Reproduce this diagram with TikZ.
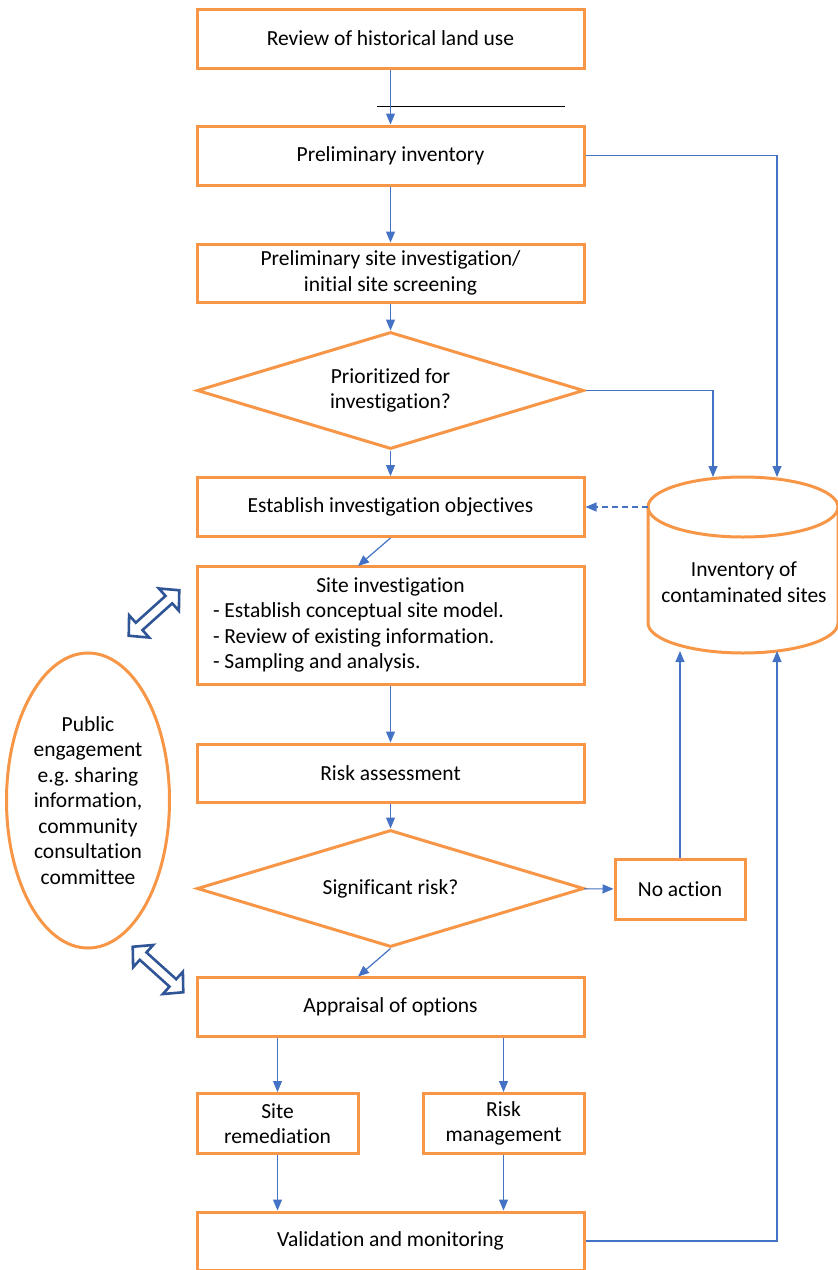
\documentclass[tikz,border=0pt]{standalone}
\usepackage{fontspec}
\setmainfont{Carlito}[Ligatures={NoCommon}]
\usetikzlibrary{shapes.geometric,arrows.meta}
\frenchspacing

\definecolor{orng}{RGB}{247,150,70}
\definecolor{lblue}{RGB}{68,114,196}
\definecolor{dblue}{RGB}{47,85,151}

\tikzset{
  stepbox/.style={draw=orng, line width=3pt, fill=white, minimum width=387pt, minimum height=59pt, inner sep=0pt, align=center},
  decision/.style={diamond, draw=orng, line width=3pt, aspect=3.3, minimum width=387pt, minimum height=117pt, inner sep=0pt, align=center},
  flow/.style={draw=lblue, line width=1.2pt, -{Triangle[width=9pt,length=11pt]}},
  twoway/.style={draw=dblue, line width=2.6pt, line join=miter, fill=white}
}

\begin{document}
\begin{tikzpicture}[x=1pt, y=-1pt, every node/.style={font=\fontsize{21.5}{25.5}\selectfont}]
        \useasboundingbox (0,0) rectangle (838,1270);

        \node[stepbox] (review) at (390.5,38.5) {Review of historical land use};
        \node[stepbox] (prelim) at (390.5,155.5) {Preliminary inventory};
        \node[stepbox, minimum height=58pt] (screening) at (390.5,273) {Preliminary site investigation/\\initial site screening};
        \node[decision] (prioritized) at (390.5,390.5) {Prioritized for\\investigation?};
        \node[stepbox] (objectives) at (390.5,507) {Establish investigation objectives};
        \node[stepbox, minimum height=118pt, text width=355pt, align=flush left] (siteinv) at (390.5,625) {\hfill Site investigation\hfill\null\\- Establish conceptual site model.\\- Review of existing information.\\- Sampling and analysis.};
        \node[stepbox, minimum height=58pt] (riskass) at (390.5,773) {Risk assessment};
        \node[decision] (significant) at (390.5,888.5) {Significant risk?};
        \node[stepbox, minimum width=130pt, minimum height=60pt] (noaction) at (680,889) {No action};
        \node[stepbox] (appraisal) at (390.5,1006.5) {Appraisal of options};
        \node[stepbox, minimum width=161pt, minimum height=60pt] (remediation) at (277.5,1123.5) {Site\\remediation};
        \node[stepbox, minimum width=161pt, minimum height=60pt] (management) at (503.5,1123.5) {Risk\\management};
        \node[stepbox, minimum height=58pt] (validation) at (390.5,1241) {Validation and monitoring};

        \node[ellipse, draw=orng, line width=3pt, minimum width=163pt, minimum height=295pt, inner sep=0pt, align=center] (public) at (88,800.5) {Public\\engagement\\e.g. sharing\\information,\\community\\consultation\\committee};

        % inventory cylinder
        \draw[draw=orng, line width=3pt, fill=white] (648,507) -- (648,623) arc[start angle=180, end angle=360, x radius=95pt, y radius=30pt] -- (838,507);
        \draw[draw=orng, line width=3pt] (743,507) ellipse[x radius=95pt, y radius=30pt];
        \node[align=center] (inventory) at (744,582) {Inventory of\\contaminated sites};
        \coordinate (invleft) at (648,507);
        \coordinate (invtopA) at (713,477);
        \coordinate (invtopB) at (777,477);
        \coordinate (invbotA) at (680,651);
        \coordinate (invbotB) at (777,651);

        \draw[black, line width=0.8pt] (377,106) -- (565,106);

        \draw[flow] (review) -- (prelim);
        \draw[flow] (prelim) -- (screening);
        \draw[flow] (screening) -- (prioritized);
        \draw[flow] (prioritized) -- (objectives);
        \draw[flow] (objectives.south) -- (358,566);
        \draw[flow] (siteinv) -- (riskass);
        \draw[flow] (riskass) -- (significant);
        \draw[flow] (significant) -- (noaction);
        \draw[flow] (significant.south) -- (358,976.5);
        \draw[flow] (appraisal.south -| remediation) -- (remediation);
        \draw[flow] (appraisal.south -| management) -- (management);
        \draw[flow] (remediation) -- (validation.north -| remediation);
        \draw[flow] (management) -- (validation.north -| management);

        \draw[flow] (prelim.east) -| (invtopB);
        \draw[flow] (prioritized.east) -| (invtopA);
        \draw[flow, dashed, dash pattern=on 6pt off 4pt] (invleft) -- (objectives.east);
        \draw[flow] (noaction.north) -- (invbotA);
        \draw[flow] (validation.east) -| (invbotB);

        % two-way arrows to public engagement
        \begin{scope}[shift={(154,613)}, rotate=42]
        \draw[twoway] (-34,0) -- (-20,15) -- (-20,5) -- (20,5) -- (20,15) -- (34,0) -- (20,-15) -- (20,-5) -- (-20,-5) -- (-20,-15) -- cycle;
        \end{scope}
        \begin{scope}[shift={(158,969.5)}, rotate=-42]
        \draw[twoway] (-34,0) -- (-20,15) -- (-20,5) -- (20,5) -- (20,15) -- (34,0) -- (20,-15) -- (20,-5) -- (-20,-5) -- (-20,-15) -- cycle;
        \end{scope}

\end{tikzpicture}
\end{document}
